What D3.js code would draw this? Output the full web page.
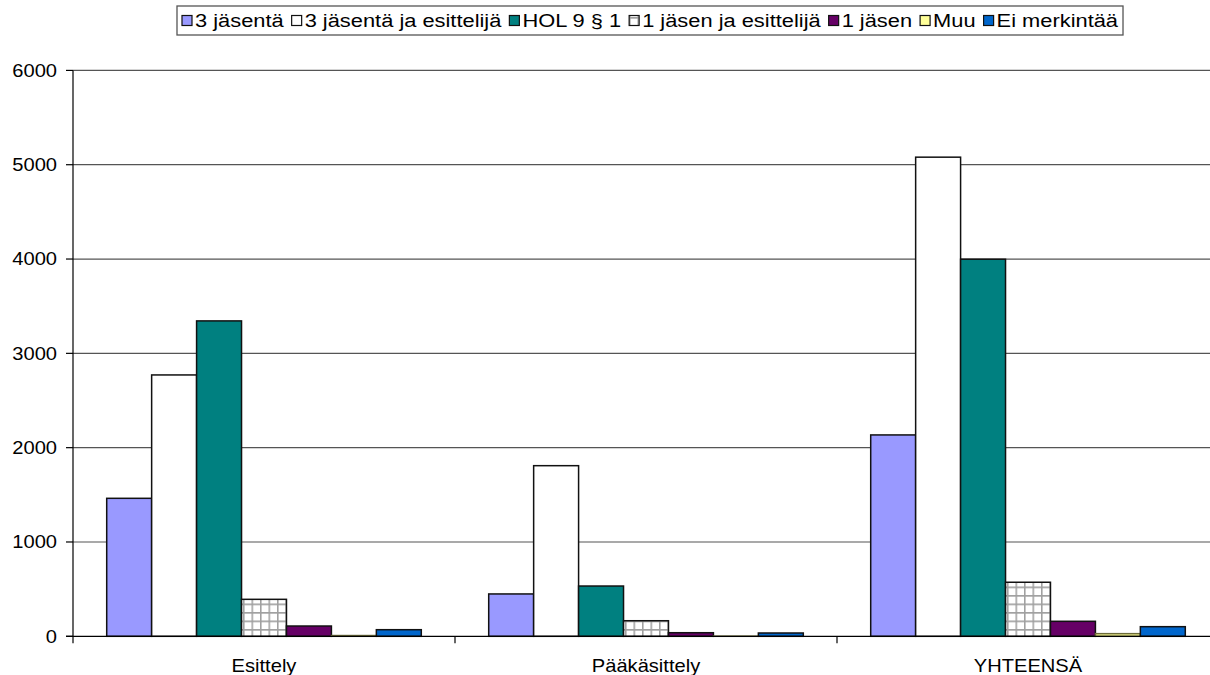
<!DOCTYPE html>
<html>
<head>
<meta charset="utf-8">
<script src="https://cdn.jsdelivr.net/npm/d3@7"></script>
<style>
  html, body { margin: 0; padding: 0; background: #fff; }
  svg { display: block; font-family: "Liberation Sans", Arial, sans-serif; }
</style>
</head>
<body>
<svg id="chart" width="1210" height="675"></svg>
<script>
// Käsittelyvaiheet (x-akselin ryhmät)
const categories = ["Esittely", "Pääkäsittely", "YHTEENSÄ"];

// Kokoonpanot (sarjat)
const seriesNames = [
  "3 jäsentä",
  "3 jäsentä ja esittelijä",
  "HOL 9 § 1",
  "1 jäsen ja esittelijä",
  "1 jäsen",
  "Muu",
  "Ei merkintää"
];

// Arvot sarjoittain, järjestyksessä Esittely, Pääkäsittely, YHTEENSÄ
const kolmeJasenta          = [1463, 449, 2135];
const kolmeJasentaEsittelija = [2771, 1809, 5080];
const hol91                 = [3344, 533, 3998];
const yksiJasenEsittelija   = [392, 165, 573];
const yksiJasen             = [109, 38, 159];
const muu                   = [8, 2, 28];
const eiMerkintaa           = [70, 35, 102];

const yTicks = [0, 1000, 2000, 3000, 4000, 5000, 6000];

const seriesValues = [
  kolmeJasenta, kolmeJasentaEsittelija, hol91,
  yksiJasenEsittelija, yksiJasen, muu, eiMerkintaa
];

const fills = ["#9999FF", "#FFFFFF", "#008080", "url(#ruudukko)", "#660066", "#FFFF99", "#0066CC"];

const plot = { left: 73, right: 1219, top: 70.4, bottom: 636.3 };
const fontSize = 17.5;
const stretch = 1.15; // horizontally widened lettering

const svg = d3.select("#chart");

// Grid fill used by "1 jäsen ja esittelijä"
const defs = svg.append("defs");
const pat = defs.append("pattern")
  .attr("id", "ruudukko")
  .attr("patternUnits", "userSpaceOnUse")
  .attr("width", 8.5).attr("height", 8.5);
pat.append("rect").attr("width", 8.5).attr("height", 8.5).attr("fill", "#fff");
pat.append("path").attr("d", "M0,0.75H8.5M0.75,0V8.5")
  .attr("stroke", "#a0a0a0").attr("stroke-width", 1.6);

const x0 = d3.scaleBand().domain(categories).range([plot.left, plot.right]).paddingInner(0).paddingOuter(0);
const x1 = d3.scaleBand().domain(d3.range(seriesNames.length)).range([0, x0.bandwidth()])
  .paddingInner(0).paddingOuter(0.75);
const y = d3.scaleLinear().domain([0, 6000]).range([plot.bottom, plot.top]);

function stretchedText(sel, x, yy, anchor, size) {
  return sel.append("text")
    .attr("transform", `translate(${x},${yy}) scale(${stretch},1)`)
    .attr("text-anchor", anchor)
    .attr("font-size", size || fontSize)
    .attr("fill", "#000");
}

// Horizontal gridlines
svg.append("g").selectAll("line")
  .data(yTicks.filter(t => t > 0))
  .join("line")
  .attr("x1", plot.left).attr("x2", plot.right)
  .attr("y1", d => y(d)).attr("y2", d => y(d))
  .attr("stroke", "#555").attr("stroke-width", 1.2);

// Bars
const groups = svg.append("g").selectAll("g")
  .data(categories)
  .join("g")
  .attr("transform", c => `translate(${x0(c)},0)`);

groups.selectAll("rect")
  .data((c, ci) => seriesValues.map((vals, si) => ({ si, v: vals[ci] })))
  .join("rect")
  .attr("x", d => x1(d.si))
  .attr("width", x1.bandwidth())
  .attr("y", d => y(d.v))
  .attr("height", d => y(0) - y(d.v))
  .attr("fill", d => fills[d.si])
  .attr("stroke", d => d.si === 5 ? "#6b6b3a" : "#111")
  .attr("stroke-width", 1.5);

// Y axis
const yAxis = svg.append("g");
yAxis.append("line")
  .attr("x1", plot.left).attr("x2", plot.left)
  .attr("y1", plot.top).attr("y2", plot.bottom)
  .attr("stroke", "#000").attr("stroke-width", 1.2);
yAxis.selectAll("line.tick")
  .data(yTicks)
  .join("line")
  .attr("class", "tick")
  .attr("x1", plot.left - 7).attr("x2", plot.left)
  .attr("y1", d => y(d)).attr("y2", d => y(d))
  .attr("stroke", "#000").attr("stroke-width", 1.2);
yTicks.forEach(t => {
  stretchedText(yAxis, 57, y(t) + 6.3, "end").text(t);
});

// X axis
const xAxis = svg.append("g");
xAxis.append("line")
  .attr("x1", plot.left - 7).attr("x2", plot.right)
  .attr("y1", y(0)).attr("y2", y(0))
  .attr("stroke", "#000").attr("stroke-width", 1.2);
xAxis.selectAll("line.tick")
  .data(categories.map(c => x0(c)).concat([plot.right]))
  .join("line")
  .attr("class", "tick")
  .attr("x1", d => d).attr("x2", d => d)
  .attr("y1", y(0)).attr("y2", y(0) + 7)
  .attr("stroke", "#000").attr("stroke-width", 1.2);
categories.forEach(c => {
  stretchedText(xAxis, x0(c) + x0.bandwidth() / 2, 672, "middle").text(c);
});

// Legend
const legendFont = 19;
const legend = svg.append("g");
const box = legend.append("rect")
  .attr("fill", "#fff").attr("stroke", "#555").attr("stroke-width", 1.3);
const sw = 10, gapAfterSwatch = 3, gapAfterText = 8;
let cx = 0;
const items = [];
seriesNames.forEach((name, i) => {
  const sx = cx;
  const t = stretchedText(legend, 0, 0, "start", legendFont).text(name);
  const w = t.node().getComputedTextLength() * stretch;
  cx += sw + gapAfterSwatch;
  items.push({ sx, tx: cx, t, i });
  cx += w + gapAfterText;
});
const totalW = cx - gapAfterText;
const legendCenter = 650, legendMid = 20.5;
const startX = legendCenter - totalW / 2;
items.forEach(({ sx, tx, t, i }) => {
  legend.append("rect")
    .attr("x", startX + sx).attr("y", legendMid - sw / 2)
    .attr("width", sw).attr("height", sw)
    .attr("fill", fills[i])
    .attr("stroke", "#111").attr("stroke-width", 1.2);
  t.attr("transform", `translate(${startX + tx},${legendMid + 6.8}) scale(${stretch},1)`);
});
box.attr("x", startX - 5).attr("y", 6)
  .attr("width", totalW + 10).attr("height", 29);
</script>
</body>
</html>
